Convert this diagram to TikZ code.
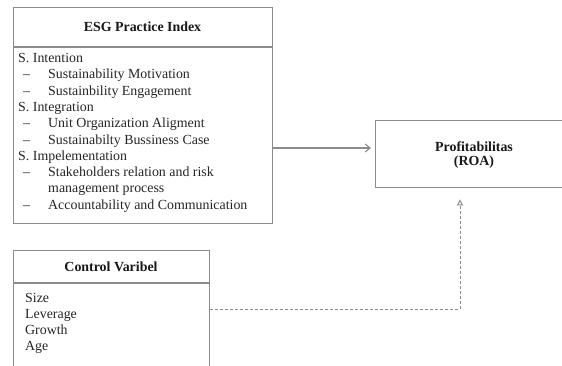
\documentclass[tikz,border=0pt]{standalone}
\usepackage{fontspec}
\setmainfont{Liberation Serif}
\usetikzlibrary{arrows.meta}
\definecolor{linegray}{gray}{0.55}
\tikzset{
 frame/.style={draw=linegray, line width=1.3pt, rectangle, inner sep=0pt},
 hdr/.style={font=\fontsize{13.9}{15}\selectfont\bfseries, text=black!90, inner sep=0pt},
 item/.style={font=\fontsize{13.9}{15}\selectfont, text=black!85, inner sep=0pt, anchor=base west},
 link/.style={draw=linegray, line width=1.1pt},
}
\begin{document}
\begin{tikzpicture}[x=1pt,y=-1pt]
\clip (0,0) rectangle (562,365);
\fill[white] (0,0) rectangle (562,365);
% ESG box
\node[frame, anchor=north west, minimum width=259pt, minimum height=216pt] (esg) at (13,7) {};
\draw[link] (esg.west |- 0,47) -- (esg.east |- 0,47);
\node[hdr] (esgh) at (142.5,27) {ESG Practice Index};
\foreach [count=\i] \d/\t in {0/S. Intention, 1/Sustainability Motivation, 1/Sustainbility Engagement, 0/S. Integration, 1/Unit Organization Aligment, 1/Sustainabilty Bussiness Case, 0/S. Impelementation, 1/Stakeholders relation and risk, 2/management process, 1/Accountability and Communication}{
  \pgfmathsetmacro\yy{62.5+16.3*(\i-1)}
  \ifcase\d
    \node[item] (et\i) at (18,\yy) {\t};
  \or
    \node[item] (ed\i) at (23,\yy) {–};
    \node[item] (et\i) at (48,\yy) {\t};
  \or
    \node[item] (et\i) at (48,\yy) {\t};
  \fi
}
% Profitabilitas box
\node[frame, anchor=north west, minimum width=198pt, minimum height=67pt] (prof) at (375,120) {};
\node[hdr] (pt1) at (474,147) {Profitabilitas};
\node[hdr] (pt2) at (474,162) {(ROA)};
% Control box
\node[frame, anchor=north west, minimum width=196pt, minimum height=140pt] (ctrl) at (13,250) {};
\draw[link] (ctrl.west |- 0,283) -- (ctrl.east |- 0,283);
\node[hdr] (ctrlh) at (111,267) {Control Varibel};
\foreach [count=\i] \t in {Size, Leverage, Growth, Age}{
  \pgfmathsetmacro\yy{302+16.3*(\i-1)}
  \node[item] (ct\i) at (25,\yy) {\t};
}
% connectors
\coordinate (a1) at (300,148);
\draw[link, shorten >=4pt, -{Straight Barb[length=5pt,width=8pt]}] (esg.east |- a1) -- (prof.west |- a1);
\coordinate (c1) at (460,309);
\draw[link, line width=1pt, dash pattern=on 3pt off 2pt, shorten >=11pt, -{Triangle[open,length=6pt,width=6pt]}] (ctrl.east |- c1) -- (c1) -- (prof.south -| c1);
\end{tikzpicture}
\end{document}
